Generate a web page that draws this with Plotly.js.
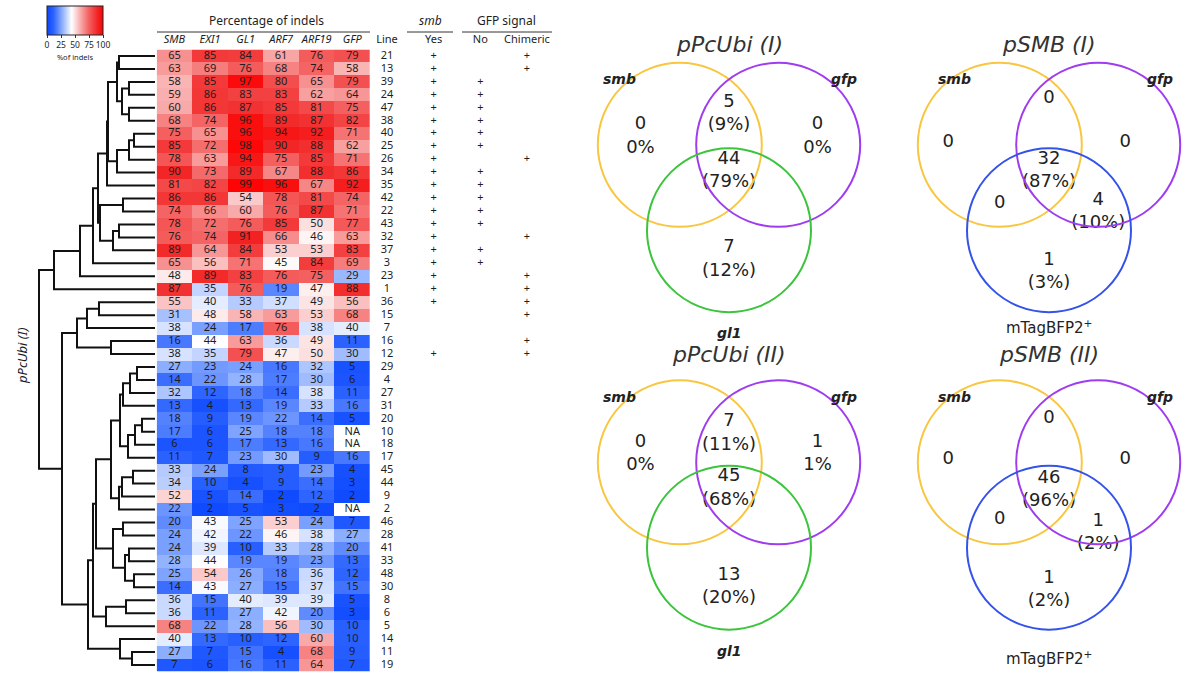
<!DOCTYPE html>
<html><head><meta charset="utf-8">
<script src="https://cdn.plot.ly/plotly-3.0.1.min.js"></script>
<style>html,body{margin:0;padding:0;background:#fff}#chart{width:1200px;height:675px}</style>
</head><body><div id="chart"></div>
<script>
// ---------------- DATA ----------------
const genes = ['SMB','EXI1','GL1','ARF7','ARF19','GFP'];
const lineIds = [21,13,39,24,47,38,40,25,26,34,35,42,22,43,32,37,3,23,1,36,15,7,16,12,29,4,27,31,20,10,18,17,45,44,9,2,46,28,41,33,48,30,8,6,5,14,11,19];
const smbPct  = [65,63,58,59,60,68,75,85,78,90,81,86,74,78,76,89,65,48,87,55,31,38,16,38,27,14,32,13,18,17,6,11,33,34,52,22,20,24,24,28,25,14,36,36,68,40,27,7];
const exi1Pct = [85,69,85,86,86,74,65,72,63,73,82,86,66,72,74,64,56,89,35,40,48,24,44,35,23,22,12,4,9,6,6,7,24,10,5,2,43,42,39,44,54,43,15,11,22,13,7,6];
const gl1Pct  = [84,76,97,83,87,96,96,98,94,89,99,54,60,76,91,84,71,83,76,33,58,17,63,79,24,28,18,13,19,25,17,23,8,4,14,5,25,22,10,19,26,27,40,27,28,10,15,16];
const arf7Pct = [61,68,80,83,85,89,94,90,75,67,96,78,76,85,66,53,45,76,19,37,63,76,36,47,16,17,14,19,22,18,13,30,9,9,2,3,53,46,33,19,18,15,39,42,56,12,4,11];
const arf19Pct= [76,74,65,62,81,87,92,88,85,88,67,81,87,50,46,53,84,75,47,49,53,38,49,50,32,30,38,33,14,18,16,9,23,14,12,2,24,38,28,23,36,37,39,20,30,60,68,64];
const gfpPct  = [79,58,79,64,75,82,71,62,71,86,92,74,71,77,63,83,69,29,88,56,68,40,11,30,5,6,11,16,5,null,null,16,4,3,2,null,7,27,20,13,12,15,5,3,10,10,9,7];

const smbYesLines      = [21,13,39,24,47,38,40,25,26,34,35,42,22,43,32,37,3,23,1,36,12];
const gfpNoLines       = [39,24,47,38,40,25,34,35,42,22,43,37,3];
const gfpChimericLines = [21,13,26,32,23,1,36,15,16,12];
const sideColumns = ['Line','Yes','No','Chimeric'];

// dendrogram linkage: [childA, childB, height]; leaves 0..47 (rows), merged nodes 48+k
const merges = [
 [0,1,36],[2,3,26],[4,5,26],[49,50,33],[48,51,38],[6,7,21],[53,8,26],[54,9,38],[52,55,47],[56,10,48],
 [11,12,32],[13,14,36],[59,15,42],[58,60,55],[57,61,57],[62,16,62],[63,17,75],[64,18,101],
 [19,20,56],[66,21,68],[22,23,44],[67,68,78],
 [24,25,18],[70,26,25],[71,27,32],[28,29,13],[73,30,20],[74,31,27],[72,75,35],
 [32,33,22],[77,34,33],[78,35,36],[76,79,44],
 [36,37,32],[38,39,26],[40,41,21],[82,83,30],[81,84,42],[80,85,59],
 [42,43,29],[87,44,49],[86,88,62],[46,47,23],[45,90,35],[89,91,67],[69,92,93],[65,93,116]
];

// Venn data: regions [A only, B only, A∩B, A∩B∩C, A∩C, B∩C, C only]
const vennTitles = ['pPcUbi (I)','pSMB (I)','pPcUbi (II)','pSMB (II)'];
const vennSetA = ['smb','smb','smb','smb'];
const vennSetB = ['gfp','gfp','gfp','gfp'];
const vennSetC = ['gl1','mTagBFP2<sup>+</sup>','gl1','mTagBFP2<sup>+</sup>'];
const vennCounts1 = [0,0,5,44,null,null,7];
const vennPct1    = [0,0,9,79,null,null,12];
const vennCounts2 = [0,0,0,32,0,4,1];
const vennPct2    = [null,null,null,87,null,10,3];
const vennCounts3 = [0,1,7,45,null,null,13];
const vennPct3    = [0,1,11,68,null,null,20];
const vennCounts4 = [0,0,0,46,0,1,1];
const vennPct4    = [null,null,null,96,null,2,2];

// ---------------- BUILD ----------------
const nRows = lineIds.length;
const rowIdx = lineIds.map((_, i) => i);
const cols = [smbPct, exi1Pct, gl1Pct, arf7Pct, arf19Pct, gfpPct];
const z = rowIdx.map(i => cols.map(c => c[i]));
const TXT = '#1e1e1e';

const traces = [];
traces.push({
  type: 'heatmap', x: genes, y: rowIdx, z: z, zmin: 0, zmax: 100,
  xaxis: 'x', yaxis: 'y', hoverinfo: 'skip',
  colorscale: [[0,'#0a46ff'],[0.12,'#2e64ff'],[0.27,'#8caeff'],[0.44,'#ffffff'],[0.58,'#f9b4b4'],[0.74,'#f46464'],[0.9,'#f22626'],[1,'#ff0000']],
  colorbar: {
    orientation: 'h', x: 75/1200, xanchor: 'center', y: 1 - 6/675, yanchor: 'top',
    len: 56, lenmode: 'pixels', thickness: 29, thicknessmode: 'pixels',
    outlinewidth: 1, outlinecolor: '#222', xpad: 0, ypad: 0,
    tickvals: [0,25,50,75,100], ticks: 'outside', ticklen: 3, tickcolor: '#333', tickangle: 0,
    tickfont: {size: 8.5, family: 'Noto Sans', color: TXT},
    title: {text: '%of indels', side: 'bottom', font: {size: 7.5, family: 'Noto Sans', color: TXT}}
  }
});

// cell labels
const cx = [], cy = [], ct = [];
rowIdx.forEach(i => genes.forEach((g, j) => { cx.push(g); cy.push(i); ct.push(cols[j][i] === null ? 'NA' : String(cols[j][i])); }));
traces.push({type: 'scatter', mode: 'text', x: cx, y: cy, text: ct, xaxis: 'x', yaxis: 'y',
  textfont: {size: 11, family: 'Noto Sans', color: TXT}, hoverinfo: 'skip', cliponaxis: false});

// side columns
const sx = [], sy = [], st = [];
rowIdx.forEach(i => {
  sx.push('Line'); sy.push(i); st.push(String(lineIds[i]));
  if (smbYesLines.includes(lineIds[i])) { sx.push('Yes'); sy.push(i); st.push('+'); }
  if (gfpNoLines.includes(lineIds[i])) { sx.push('No'); sy.push(i); st.push('+'); }
  if (gfpChimericLines.includes(lineIds[i])) { sx.push('Chimeric'); sy.push(i); st.push('+'); }
});
traces.push({type: 'scatter', mode: 'text', x: sx, y: sy, text: st, xaxis: 'x3', yaxis: 'y',
  textfont: {size: 11, family: 'Noto Sans', color: TXT}, hoverinfo: 'skip', cliponaxis: false});

// dendrogram
const nodeY = rowIdx.slice(), nodeH = rowIdx.map(() => 0);
const dx = [], dy = [];
merges.forEach(m => {
  const [a, b, h] = m;
  dx.push(nodeH[a], h, h, nodeH[b], null);
  dy.push(nodeY[a], nodeY[a], nodeY[b], nodeY[b], null);
  nodeY.push((nodeY[a] + nodeY[b]) / 2); nodeH.push(h);
});
traces.push({type: 'scatter', mode: 'lines', x: dx, y: dy, xaxis: 'x2', yaxis: 'y',
  line: {color: '#111', width: 2}, hoverinfo: 'skip', cliponaxis: false});

// Venn diagrams (unit geometry; label anchors per panel style)
const geo = {A: [-0.6, 0.52], B: [0.6, 0.52], C: [0, -0.52], r: 1};
const anchorSets = [
  [[-1.08,0.62],[1.08,0.62],[0,0.9],[0,0.2],[-0.6,-0.2],[0.6,-0.2],[0,-0.88]],
  [[-1.23,0.55],[0.93,0.55],[0,1.08],[0,0.2],[-0.6,-0.19],[0.6,-0.3],[0,-1.03]],
  [[-1.08,0.62],[1.08,0.62],[0,0.87],[0,0.2],[-0.6,-0.2],[0.6,-0.2],[0,-1.0]],
  [[-1.23,0.55],[0.93,0.55],[0,1.05],[0,0.18],[-0.6,-0.18],[0.6,-0.34],[0,-1.04]]
];
const titleY = [1.74, 1.74, 1.83, 1.83];
const setAX = [-1.33, -1.15, -1.33, -1.15];
const setBX = [1.40, 1.35, 1.40, 1.35];
const setCY = [-1.78, -1.70, -1.78, -1.86];
const vennCounts = [vennCounts1, vennCounts2, vennCounts3, vennCounts4];
const vennPcts = [vennPct1, vennPct2, vennPct3, vennPct4];
const vennCColor = ['#3cc43c','#3553e8','#3cc43c','#3553e8'];
const shapes = [], annotations = [];
const ann = o => annotations.push(Object.assign({showarrow: false, xanchor: 'center', yanchor: 'middle'}, o));
vennCounts.forEach((counts, p) => {
  const ax = 'x' + (4 + p), ay = 'y' + (4 + p);
  const tx = [], ty = [], tt = [];
  counts.forEach((c, k) => {
    if (c === null) return;
    const pc = vennPcts[p][k];
    let s = String(c);
    if (pc !== null) s += '<br>' + ((k < 2) ? pc + '%' : '(' + pc + '%)');
    tx.push(anchorSets[p][k][0]); ty.push(anchorSets[p][k][1]); tt.push(s);
  });
  traces.push({type: 'scatter', mode: 'text', x: tx, y: ty, text: tt, xaxis: ax, yaxis: ay,
    textfont: {size: 18, family: 'DejaVu Sans', color: '#222'}, hoverinfo: 'skip', cliponaxis: false});
  [['A','#f8c640'],['B','#a03cf0'],['C',vennCColor[p]]].forEach(([k, col]) => {
    const c = geo[k];
    shapes.push({type: 'circle', xref: ax, yref: ay, x0: c[0]-geo.r, x1: c[0]+geo.r, y0: c[1]-geo.r, y1: c[1]+geo.r,
      line: {color: col, width: 2}, fillcolor: 'rgba(0,0,0,0)'});
  });
  ann({xref: ax, yref: ay, x: 0, y: titleY[p], text: '<i>' + vennTitles[p] + '</i>',
    font: {size: 22, family: 'DejaVu Sans', color: '#333'}});
  ann({xref: ax, yref: ay, x: setAX[p], y: 1.32, text: '<b><i>' + vennSetA[p] + '</i></b>',
    font: {size: 14, family: 'DejaVu Sans', color: '#222'}});
  ann({xref: ax, yref: ay, x: setBX[p], y: 1.32, text: '<b><i>' + vennSetB[p] + '</i></b>',
    font: {size: 14, family: 'DejaVu Sans', color: '#222'}});
  const isGl1 = vennSetC[p] === 'gl1';
  ann({xref: ax, yref: ay, x: 0, y: setCY[p],
    text: isGl1 ? '<b><i>' + vennSetC[p] + '</i></b>' : vennSetC[p],
    font: {size: isGl1 ? 14 : 15, family: 'DejaVu Sans', color: '#222'}});
});

// headers
const py = px => 1 - px / 675;
ann({xref: 'paper', yref: 'paper', x: 266/1200, y: py(21), text: 'Percentage of indels', font: {size: 12, family: 'Noto Sans', color: TXT}});
ann({xref: 'paper', yref: 'paper', x: 430/1200, y: py(21), text: '<i>smb</i>', font: {size: 12, family: 'Noto Sans', color: TXT}});
ann({xref: 'paper', yref: 'paper', x: 506/1200, y: py(21), text: 'GFP signal', font: {size: 12, family: 'Noto Sans', color: TXT}});
ann({xref: 'paper', yref: 'paper', x: 22/1200, y: py(356), text: '<i>pPcUbi (I)</i>', textangle: -90, font: {size: 13, family: 'Noto Sans', color: TXT}});
[[157,370],[407,453],[462,552]].forEach(([a, b]) => shapes.push({type: 'line', xref: 'paper', yref: 'paper',
  x0: a/1200, x1: b/1200, y0: py(32), y1: py(32), line: {color: '#333', width: 1}}));

const yDom = [py(671.5), py(49.5)];
const vx = [[0.4845,0.7305],[0.75117,0.99717],[0.4845,0.7305],[0.75117,0.99717]];
const vy = [[0.49141,0.95303],[0.49141,0.95303],[0.02104,0.48266],[0.02104,0.48266]];

const layout = {
  width: 1200, height: 675, margin: {l:0, r:0, t:0, b:0}, paper_bgcolor: '#fff', plot_bgcolor: 'rgba(0,0,0,0)',
  showlegend: false, shapes: shapes, annotations: annotations,
  xaxis: {domain: [156.7/1200, 370/1200], type: 'category', side: 'top', anchor: 'y', showgrid: false, zeroline: false,
    tickmode: 'array', tickvals: genes, ticktext: genes.map(g => '<i>' + g + '</i>'), ticks: '', ticklabelstandoff: 3,
    tickfont: {size: 11, family: 'Noto Sans', color: TXT}, showline: false},
  yaxis: {domain: yDom, range: [nRows - 0.5, -0.5], visible: false, showgrid: false, zeroline: false},
  xaxis2: {domain: [0, 155/1200], range: [155, 0], anchor: 'y', visible: false, showgrid: false, zeroline: false},
  xaxis3: {domain: [0.31, 0.46], type: 'category', categoryorder: 'array', categoryarray: sideColumns, range: [-0.321, 3.536],
    side: 'top', anchor: 'y', showgrid: false, zeroline: false, ticks: '', ticklabelstandoff: 3,
    tickfont: {size: 11, family: 'Noto Sans', color: TXT}}
};
for (let p = 0; p < 4; p++) {
  layout['xaxis' + (4 + p)] = {domain: vx[p], range: [-1.8, 1.8], anchor: 'y' + (4 + p), visible: false, showgrid: false, zeroline: false};
  layout['yaxis' + (4 + p)] = {domain: vy[p], range: [-1.9, 1.9], anchor: 'x' + (4 + p), visible: false, showgrid: false, zeroline: false};
}

Plotly.newPlot('chart', traces, layout, {displayModeBar: false, staticPlot: true});
</script>
</body></html>
